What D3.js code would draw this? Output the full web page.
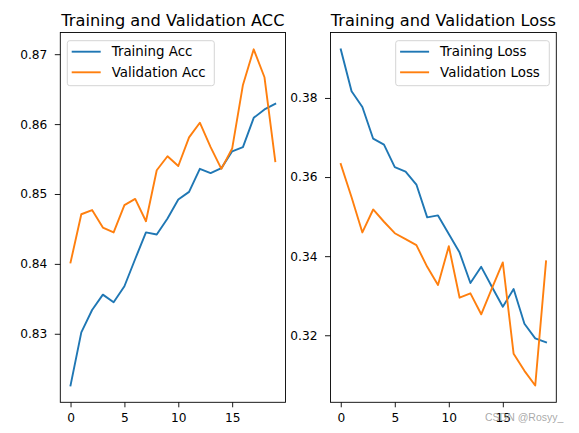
<!DOCTYPE html>
<html><head><meta charset="utf-8">
<script src="https://cdn.jsdelivr.net/npm/d3@7"></script>
<style>
html,body{margin:0;padding:0;background:#fff;}
svg{display:block;font-family:"DejaVu Sans",sans-serif;}
</style></head>
<body>
<svg id="chart" width="579" height="433"></svg>
<script>
const epochs = [0,1,2,3,4,5,6,7,8,9,10,11,12,13,14,15,16,17,18,19];
const trainAcc = [0.8226,0.8302,0.8334,0.8356,0.8345,0.8368,0.8407,0.8445,0.8442,0.8465,0.8492,0.8503,0.8536,0.8530,0.8537,0.8561,0.8567,0.8609,0.8621,0.8629];
const valAcc = [0.8402,0.8471,0.8477,0.8452,0.8445,0.8484,0.8493,0.8461,0.8534,0.8554,0.8540,0.8581,0.8602,0.8567,0.8536,0.8565,0.8656,0.8707,0.8667,0.8547];
const trainLoss = [0.3923,0.3817,0.3777,0.3697,0.3682,0.3625,0.3614,0.3581,0.3498,0.3503,0.3456,0.3409,0.3332,0.3373,0.3322,0.3272,0.3317,0.3229,0.3192,0.3182];
const valLoss = [0.3633,0.3549,0.3460,0.3518,0.3487,0.3458,0.3443,0.3428,0.3373,0.3327,0.3425,0.3295,0.3306,0.3253,0.3319,0.3384,0.3153,0.3110,0.3073,0.3387];
const xTicks = [0,5,10,15];
const accTicks = [0.83,0.84,0.85,0.86,0.87];
const lossTicks = [0.32,0.34,0.36,0.38];
const titles = ["Training and Validation ACC","Training and Validation Loss"];
const accLabels = ["Training Acc","Validation Acc"];
const lossLabels = ["Training Loss","Validation Loss"];
const colors = ["#1f77b4","#ff7f0e"];

const svg = d3.select("#chart");

function panel(box, series, labels, yTicks, title, legendX) {
  const g = svg.append("g");
  const all = series.flat();
  const mn = d3.min(all), mx = d3.max(all), pad = (mx - mn) * 0.05;
  const x = d3.scaleLinear().domain([-0.95, 19.95]).range([box.l, box.r]);
  const y = d3.scaleLinear().domain([mn - pad, mx + pad]).range([box.b, box.t]);

  const line = d3.line().x((d,i) => x(epochs[i])).y(d => y(d));
  series.forEach((s,k) => {
    g.append("path").datum(s).attr("d", line).attr("fill","none")
      .attr("stroke", colors[k]).attr("stroke-width", 1.9)
      .attr("stroke-linejoin","round").attr("stroke-linecap","square");
  });

  const xa = g.append("g").attr("transform", `translate(0,${box.b})`)
    .call(d3.axisBottom(x).tickValues(xTicks).tickSize(5).tickPadding(6.5).tickFormat(d3.format("d")));
  const ya = g.append("g").attr("transform", `translate(${box.l},0)`)
    .call(d3.axisLeft(y).tickValues(yTicks).tickSize(5.5).tickPadding(7.5).tickFormat(d3.format(".2f")));
  [xa, ya].forEach(a => {
    a.select(".domain").remove();
    a.selectAll("line").attr("stroke","#000").attr("stroke-width",0.9);
    a.selectAll("text").attr("font-size","12.2px").attr("fill","#000")
      .attr("font-family","DejaVu Sans, sans-serif");
  });

  g.append("rect").attr("x", box.l).attr("y", box.t)
    .attr("width", box.r - box.l).attr("height", box.b - box.t)
    .attr("fill","none").attr("stroke","#000").attr("stroke-width",0.9);

  g.append("text").attr("x", (box.l + box.r)/2).attr("y", 25.7)
    .attr("text-anchor","middle").attr("font-size","16.2px").attr("fill","#000")
    .text(title);

  // legend
  const lg = g.append("g");
  const lw = legendX.w;
  lg.append("rect").attr("x", legendX.x).attr("y", 40.7).attr("width", lw).attr("height", 45)
    .attr("rx", 2.5).attr("fill","#fff").attr("fill-opacity",0.8)
    .attr("stroke","#d0d0d0").attr("stroke-width",0.9);
  labels.forEach((lab,k) => {
    const yy = 51.7 + k*20.6;
    lg.append("line").attr("x1", legendX.x + 4.4).attr("x2", legendX.x + 33.4)
      .attr("y1", yy).attr("y2", yy).attr("stroke", colors[k]).attr("stroke-width",1.9);
    lg.append("text").attr("x", legendX.x + 44.4).attr("y", yy + 4.2)
      .attr("font-size","13.4px").attr("fill","#000").text(lab);
  });
}

panel({l:60.3, r:285.5, t:32.5, b:402.3}, [trainAcc, valAcc], accLabels, accTicks, titles[0], {x:67.3, w:147});
panel({l:330.5, r:556.3, t:32.5, b:402.3}, [trainLoss, valLoss], lossLabels, lossTicks, titles[1], {x:395.7, w:153.6});

svg.append("text").attr("x", 485).attr("y", 421).attr("font-size","10.5px")
  .attr("fill","#999").attr("fill-opacity",0.85).attr("font-family","Liberation Sans, Arial, sans-serif")
  .text("CSDN @Rosyy_");
</script>
</body></html>
